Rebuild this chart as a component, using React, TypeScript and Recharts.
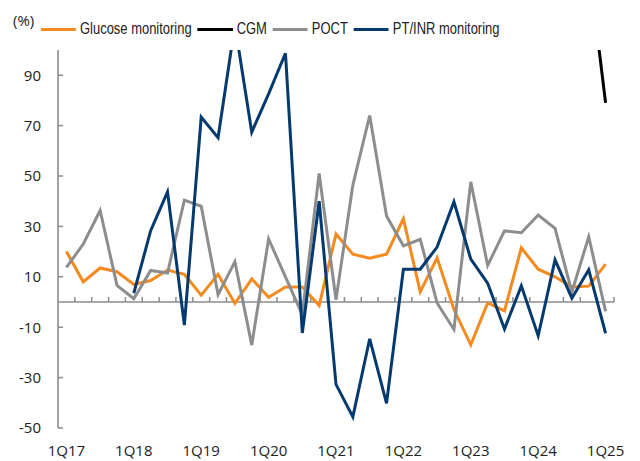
import { LineChart, Line, XAxis, YAxis, ReferenceLine, Legend } from "recharts";

// legend: Liberation Sans squeezed horizontally (Arial Narrow look); axes: Open Sans
const FONT = "'Liberation Sans', Arial, sans-serif";
const TICK_FONT = "'Open Sans', 'Noto Sans', sans-serif";
const SQUEEZE = 0.81;
const AXIS = "#8c8c8c";
const TEXT = "#222222";

const quarters = [
  "1Q17", "2Q17", "3Q17", "4Q17",
  "1Q18", "2Q18", "3Q18", "4Q18",
  "1Q19", "2Q19", "3Q19", "4Q19",
  "1Q20", "2Q20", "3Q20", "4Q20",
  "1Q21", "2Q21", "3Q21", "4Q21",
  "1Q22", "2Q22", "3Q22", "4Q22",
  "1Q23", "2Q23", "3Q23", "4Q23",
  "1Q24", "2Q24", "3Q24", "4Q24",
  "1Q25",
];

// YoY growth, %
const glucose = [
  20, 8, 13.5, 12, 7, 8.5, 12.7, 11, 2.7, 11, -0.6, 9.2, 1.9, 6, 6, -1.4,
  27, 19, 17.4, 19, 33, 4, 17.5, -3, -17, -0.4, -3.5, 21.5, 13, 10, 6, 6.3, 15,
];
const cgm = [
  null, null, null, null, null, null, null, null, null, null, null, null, null, null, null, null,
  null, null, null, null, null, null, null, null, null, null, null, null, null, null, null, 134, 79,
];
const poct = [
  13.7, 23, 36.3, 6.6, 1.3, 12.5, 11.5, 40.4, 38, 2.9, 16, -17.1, 25, 10, -5, 51,
  0.9, 46.4, 74, 34.1, 22.3, 24.9, -0.4, -10.9, 47.7, 14.5, 28.2, 27.5, 34.5, 29.2, 4, 25.9, -3.7,
];
const ptInr = [
  null, null, null, null, 3.5, 28.3, 43.7, -9.2, 73.4, 65.2, 110, 67.4, 82.6, 98.7, -12.3, 40,
  -32.7, -45.6, -14.6, -40.2, 13, 13, 21.8, 39.8, 17, 7.5, -10.7, 6.4, -13.4, 16.7, 1.5, 12.8, -12.4,
];

const yTicks = [-50, -30, -10, 10, 30, 50, 70, 90];

const SERIES = [
  { key: "glucose", name: "Glucose monitoring", color: "#f58a1f" },
  { key: "cgm", name: "CGM", color: "#000000" },
  { key: "poct", name: "POCT", color: "#8b8d8f" },
  { key: "ptInr", name: "PT/INR monitoring", color: "#053a6e" },
];

const data = quarters.map((q, i) => ({
  q,
  glucose: glucose[i],
  cgm: cgm[i],
  poct: poct[i],
  ptInr: ptInr[i],
}));

function YTick({ x, y, payload }: any) {
  return (
    <g>
      <line x1={x} x2={x + 5} y1={y} y2={y} stroke={AXIS} strokeWidth={1.5} />
      <text x={x - 17} y={y} dy="0.36em" textAnchor="end" fontSize={15} fill={TEXT} fontFamily={TICK_FONT}>
        {payload.value}
      </text>
    </g>
  );
}

function XTick({ x, y, payload }: any) {
  return (
    <text x={x} y={y} dy="0.71em" textAnchor="middle" fontSize={15} fill={TEXT} fontFamily={TICK_FONT}>
      {payload.value}
    </text>
  );
}

function ZeroLine(props: any) {
  const { x1, x2, y1 } = props;
  const step = (x2 - x1) / quarters.length;
  return (
    <g>
      <line x1={x1} x2={x2} y1={y1} y2={y1} stroke={AXIS} strokeWidth={1.6} />
      {quarters.map((_, i) => (
        <line
          key={i}
          x1={x1 + step * (i + 1)}
          x2={x1 + step * (i + 1)}
          y1={y1}
          y2={y1 - 5}
          stroke={AXIS}
          strokeWidth={1.5}
        />
      ))}
    </g>
  );
}

function LegendRow() {
  return (
    <div
      style={{
        display: "flex",
        alignItems: "center",
        fontFamily: FONT,
        fontSize: 16,
        color: TEXT,
        whiteSpace: "nowrap",
        transform: `scaleX(${SQUEEZE})`,
        transformOrigin: "left center",
      }}
    >
      {SERIES.map((s) => (
        <div key={s.key} style={{ display: "flex", alignItems: "center", marginRight: 6 / SQUEEZE }}>
          <span
            style={{ display: "inline-block", width: 35 / SQUEEZE, height: 3, background: s.color, marginRight: 4 / SQUEEZE }}
          />
          <span>{s.name}</span>
        </div>
      ))}
    </div>
  );
}

export default function App() {
  return (
    <div style={{ position: "fixed", left: 0, top: 0, width: 640, height: 461, background: "#fff" }}>
      <div style={{ position: "absolute", left: 13, top: 10, fontFamily: TICK_FONT, fontSize: 15, color: TEXT }}>
        (%)
      </div>
      <LineChart width={640} height={461} data={data} margin={{ top: 50, right: 26, bottom: 0, left: 0 }}>
        <XAxis
          dataKey="q"
          scale="band"
          interval={3}
          axisLine={false}
          tickLine={false}
          tickSize={0}
          tickMargin={17}
          height={33}
          tick={<XTick />}
        />
        <YAxis
          domain={[-50, 100]}
          ticks={yTicks}
          allowDataOverflow
          width={58}
          axisLine={{ stroke: AXIS, strokeWidth: 1.6 }}
          tickLine={false}
          tickSize={0}
          tickMargin={0}
          tick={<YTick />}
        />
        <ReferenceLine y={0} shape={<ZeroLine />} />
        <Legend
          layout="horizontal"
          verticalAlign="middle"
          align="center"
          content={() => <LegendRow />}
          wrapperStyle={{ top: 20, left: 41, width: "auto", height: "auto" }}
        />
        {SERIES.map((s) => (
          <Line
            key={s.key}
            dataKey={s.key}
            name={s.name}
            type="linear"
            stroke={s.color}
            strokeWidth={3}
            dot={false}
            isAnimationActive={false}
          />
        ))}
      </LineChart>
    </div>
  );
}
